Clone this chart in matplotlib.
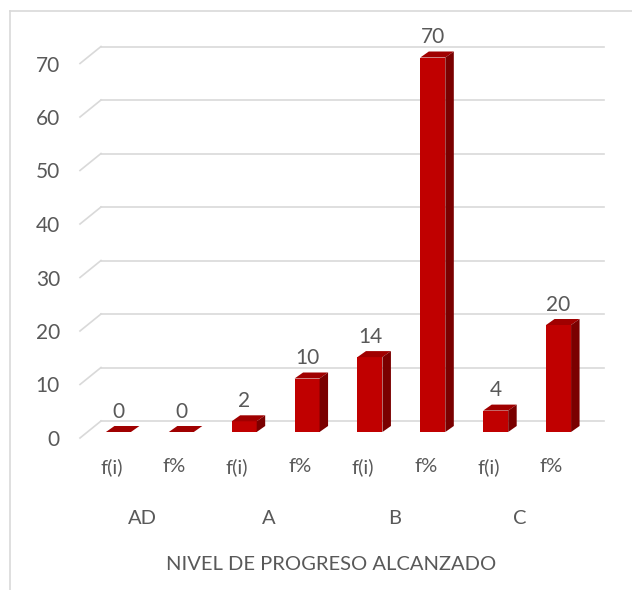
import matplotlib
matplotlib.use("Agg")
import matplotlib.pyplot as plt
from matplotlib.patches import Polygon
from matplotlib.lines import Line2D
from matplotlib.transforms import blended_transform_factory, ScaledTranslation

plt.rcParams['font.family'] = ['Lato', 'DejaVu Sans']

# data
groups = ["AD", "A", "B", "C"]
sub_labels = ["f(i)", "f%", "f(i)", "f%", "f(i)", "f%", "f(i)", "f%"]
values = [0, 0, 2, 10, 14, 70, 4, 20]
y_ticks = [0, 10, 20, 30, 40, 50, 60, 70]

TEXT = "#595959"
GRID = "#D9D9D9"
FRONT = "#C00000"
TOP = "#A00000"
SIDE = "#7A0000"
NUM_FS = 15
LAB_FS = 14.5

W, H = 632, 590
fig = plt.figure(figsize=(W / 100, H / 100), dpi=100)
# front plane of the 3D box, in pixels
left, right, bottom, top = 80, 583, 438, 63.5
ax = fig.add_axes([left / W, 1 - bottom / H, (right - left) / W, (bottom - top) / H])
ax.set_xlim(-0.5, 7.5)
ax.set_ylim(0, 70)
ax.axis("off")

# pixel -> data conversion
ux = 8 / (right - left)
uy = 70 / (bottom - top)

wall_dx, wall_dy = 21 * ux, 17 * uy      # depth of the floor / side wall
shift_dx, shift_dy = 7 * ux, 6 * uy      # bars sit a little behind the front plane
depth_dx, depth_dy = 8.5 * ux, 6 * uy    # depth of each bar
bar_w = 25 * ux

# back wall gridlines + side wall diagonals
tick_tr = ax.transData + ScaledTranslation(-20 / 100, -2 / 100, fig.dpi_scale_trans)
for t in y_ticks:
    ax.plot([-0.5 + wall_dx, 7.5 + wall_dx], [t + wall_dy, t + wall_dy],
            color=GRID, lw=1.2, clip_on=False, zorder=1)
    ax.plot([-0.5, -0.5 + wall_dx], [t, t + wall_dy],
            color=GRID, lw=1.2, clip_on=False, zorder=1)
    ax.text(-0.5, t, str(t), transform=tick_tr, ha="right", va="center",
            fontsize=NUM_FS, color=TEXT)

# 3D bars
xs = list(range(len(values)))
centers = [x + shift_dx for x in xs]
ax.bar(centers, values, width=bar_w, bottom=shift_dy, color=FRONT,
       linewidth=0, zorder=3, clip_on=False)
for c, v in zip(centers, values):
    x0, x1 = c - bar_w / 2, c + bar_w / 2
    y0, y1 = shift_dy, shift_dy + v
    ax.add_patch(Polygon([(x0, y1), (x1, y1), (x1 + depth_dx, y1 + depth_dy),
                          (x0 + depth_dx, y1 + depth_dy)],
                         closed=True, facecolor=TOP, edgecolor="none",
                         zorder=4, clip_on=False))
    if v > 0:
        ax.add_patch(Polygon([(x1, y0), (x1 + depth_dx, y0 + depth_dy),
                              (x1 + depth_dx, y1 + depth_dy), (x1, y1)],
                             closed=True, facecolor=SIDE, edgecolor="none",
                             zorder=4, clip_on=False))
    ax.annotate(str(v), (c, y1 + depth_dy), xytext=(0, 3),
                textcoords="offset points", ha="center", va="bottom",
                fontsize=NUM_FS, color=TEXT, annotation_clip=False)

# category labels
tr = blended_transform_factory(ax.transData, fig.transFigure)
for x, lab in zip(xs, sub_labels):
    ax.text(x, 1 - 467 / H, lab, transform=tr, ha="center", va="center",
            fontsize=LAB_FS, color=TEXT)
for g, lab in enumerate(groups):
    ax.text(2 * g + 0.5, 1 - 518 / H, lab, transform=tr, ha="center",
            va="center", fontsize=LAB_FS, color=TEXT)
ax.text(3.5, 1 - 564 / H, "NIVEL DE PROGRESO ALCANZADO", transform=tr,
        ha="center", va="center", fontsize=LAB_FS, color=TEXT)

# chart border (cropped on the right and bottom)
fig.add_artist(Line2D([10.5 / W, 10.5 / W], [0, 1 - 10.5 / H],
                      transform=fig.transFigure, color=GRID, lw=1.2))
fig.add_artist(Line2D([10.5 / W, 1], [1 - 10.5 / H, 1 - 10.5 / H],
                      transform=fig.transFigure, color=GRID, lw=1.2))

fig.savefig("out.png", dpi=100)
